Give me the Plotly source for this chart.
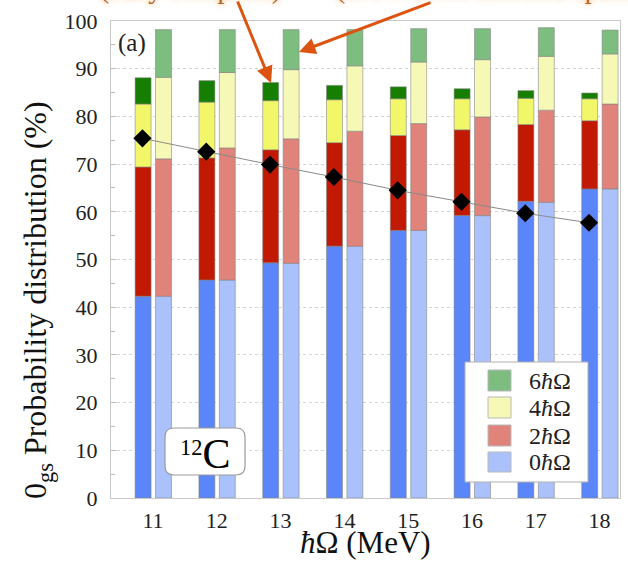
import plotly.graph_objects as go

# Oscillator frequencies (MeV)
hw = [11, 12, 13, 14, 15, 16, 17, 18]

# Ground-state probability distribution over N hbar-Omega excitations (%)
# complete space (dark bars)
full_0 = [42.3, 45.7, 49.3, 52.8, 56.1, 59.2, 62.2, 64.8]
full_2 = [27.1, 25.6, 23.7, 21.7, 19.9, 18.0, 16.1, 14.3]
full_4 = [13.2, 11.7, 10.3, 9.0, 7.7, 6.5, 5.5, 4.6]
full_6 = [5.5, 4.5, 3.8, 3.0, 2.5, 2.1, 1.6, 1.2]

# selected space (light bars)
sel_0 = [42.3, 45.7, 49.2, 52.8, 56.1, 59.2, 62.0, 64.8]
sel_2 = [28.8, 27.7, 26.1, 24.1, 22.4, 20.7, 19.3, 17.8]
sel_4 = [17.1, 15.8, 14.5, 13.7, 12.9, 12.0, 11.3, 10.5]
sel_6 = [10.0, 9.0, 8.4, 7.6, 7.0, 6.5, 6.0, 5.0]

# leading-shape contribution (diamonds)
leading = [75.4, 72.6, 69.9, 67.3, 64.5, 62.1, 59.7, 57.7]

legend_labels = ["6<i>ħ</i>Ω", "4<i>ħ</i>Ω", "2<i>ħ</i>Ω", "0<i>ħ</i>Ω"]

dark_colors = ["#5b86f9", "#c21a02", "#f2f76a", "#167f02"]
light_colors = ["#aac1fb", "#e0837a", "#f6f9b6", "#7dbd7f"]

SERIF = "Times New Roman, Liberation Serif, serif"

fig = go.Figure()


def add_stack(parts, colors, offset, width):
    base = [0.0] * len(hw)
    for vals, col in zip(parts, colors):
        fig.add_trace(go.Bar(
            x=hw, y=vals, base=list(base), offset=offset, width=width,
            marker=dict(color=col, line=dict(color="rgba(130,130,130,0.7)", width=0.8)),
            showlegend=False, hoverinfo="skip",
        ))
        base = [b + v for b, v in zip(base, vals)]


add_stack([full_0, full_2, full_4, full_6], dark_colors, -0.28, 0.25)
add_stack([sel_0, sel_2, sel_4, sel_6], light_colors, 0.04, 0.25)

fig.add_trace(go.Scatter(
    x=[h - 0.165 for h in hw], y=leading, mode="lines+markers",
    line=dict(color="#8a8a8a", width=1),
    marker=dict(symbol="diamond", size=14, color="black"),
    showlegend=False, hoverinfo="skip",
))

# plot-area geometry in pixels
W, H = 628, 563
L, R, T, B = 111, 8, 21, 65
PW, PH = W - L - R, H - T - B


def px(x):
    return (x - L) / PW


def py(y):
    return (H - B - y) / PH


shapes = []
annotations = []

# hand-built legend
shapes.append(dict(type="rect", xref="paper", yref="paper",
                   x0=px(465), x1=px(588), y0=py(482), y1=py(362),
                   fillcolor="white", line=dict(color="#b0b0b0", width=1), layer="above"))
rows = [(370, 391), (397, 418), (425, 446), (452, 472)]
for (t, b), lab, col in zip(rows, legend_labels, light_colors[::-1]):
    shapes.append(dict(type="rect", xref="paper", yref="paper",
                       x0=px(488), x1=px(511), y0=py(b), y1=py(t),
                       fillcolor=col, line=dict(color="#b8b8b8", width=1), layer="above"))
    annotations.append(dict(xref="paper", yref="paper", x=px(527), y=py((t + b) / 2),
                            xanchor="left", yanchor="middle", showarrow=False,
                            text=lab, font=dict(family=SERIF, size=24, color="#222")))

# rounded nucleus label box
x0, x1, y0, y1, r = px(165), px(245), py(475), py(428), 9
rx, ry = r / PW, r / PH
path = (f"M {x0+rx},{y1} L {x1-rx},{y1} Q {x1},{y1} {x1},{y1-ry} "
        f"L {x1},{y0+ry} Q {x1},{y0} {x1-rx},{y0} L {x0+rx},{y0} "
        f"Q {x0},{y0} {x0},{y0+ry} L {x0},{y1-ry} Q {x0},{y1} {x0+rx},{y1} Z")
shapes.append(dict(type="path", xref="paper", yref="paper", path=path,
                   fillcolor="white", line=dict(color="#9a9a9a", width=1.2), layer="above"))
annotations.append(dict(xref="paper", yref="paper", x=px(205), y=py(454),
                        xanchor="center", yanchor="middle", showarrow=False,
                        text="<sup>12</sup><span style='font-size:42px'>C</span>",
                        font=dict(family=SERIF, size=32, color="black")))

annotations.append(dict(xref="paper", yref="paper", x=px(116), y=py(43),
                        xanchor="left", yanchor="middle", showarrow=False,
                        text="(a)", font=dict(family=SERIF, size=25, color="#222")))

# axis titles
annotations.append(dict(xref="paper", yref="paper", x=px(365), y=py(542),
                        xanchor="center", yanchor="middle", showarrow=False,
                        text="<i>ħ</i>Ω (MeV)", font=dict(family=SERIF, size=31, color="#111")))
annotations.append(dict(xref="paper", yref="paper", x=px(37), y=py(300),
                        xanchor="center", yanchor="middle", showarrow=False, textangle=-90,
                        text="0<sub>gs</sub> Probability distribution (%)",
                        font=dict(family=SERIF, size=32, color="#111")))

# orange pointer arrows and their captions
ARROW = "#dc5410"
annotations.append(dict(xref="paper", yref="paper", x=px(271), y=py(83),
                        ax=237 - 271, ay=0 - 83, text="", showarrow=True,
                        arrowhead=2, arrowsize=1.1, arrowwidth=3, arrowcolor=ARROW))
annotations.append(dict(xref="paper", yref="paper", x=px(299), y=py(52),
                        ax=432 - 299, ay=2 - 52, text="", showarrow=True,
                        arrowhead=2, arrowsize=1.1, arrowwidth=3, arrowcolor=ARROW))
glow = dict(family=SERIF, size=28, color="#b8641e", shadow="0px 0px 6px #f7a24c")
annotations.append(dict(xref="paper", yref="paper", x=px(190), y=py(6),
                        xanchor="center", yanchor="bottom", showarrow=False,
                        text="(fully complete)", font=glow))
annotations.append(dict(xref="paper", yref="paper", x=px(490), y=py(6),
                        xanchor="center", yanchor="bottom", showarrow=False,
                        text="(SA-NCSM selected space)", font=glow))

fig.update_layout(
    width=W, height=H,
    margin=dict(l=L, r=R, t=T, b=B),
    paper_bgcolor="white", plot_bgcolor="white",
    barmode="overlay",
    showlegend=False,
    shapes=shapes,
    annotations=annotations,
    font=dict(family=SERIF, color="#222"),
)

fig.update_xaxes(
    range=[10.342, 18.32], tickvals=hw, ticktext=[str(h) for h in hw],
    tickfont=dict(family=SERIF, size=22, color="#222"), ticks="", ticklabelstandoff=3,
    showgrid=False, zeroline=False,
    showline=True, linecolor="#c8c8c8", linewidth=1, mirror=True,
)
fig.update_yaxes(
    range=[0, 100], dtick=10,
    tickfont=dict(family=SERIF, size=22, color="#222"),
    ticks="inside", ticklen=5, tickcolor="#bbb",
    ticklabelstandoff=8,
    minor=dict(dtick=5, ticks="inside", ticklen=4, tickcolor="#bbb", showgrid=False),
    showgrid=True, gridcolor="#d4d4d4", griddash="dot", gridwidth=1,
    zeroline=False,
    showline=True, linecolor="#c8c8c8", linewidth=1, mirror=True,
)

fig.write_html("out.html")
